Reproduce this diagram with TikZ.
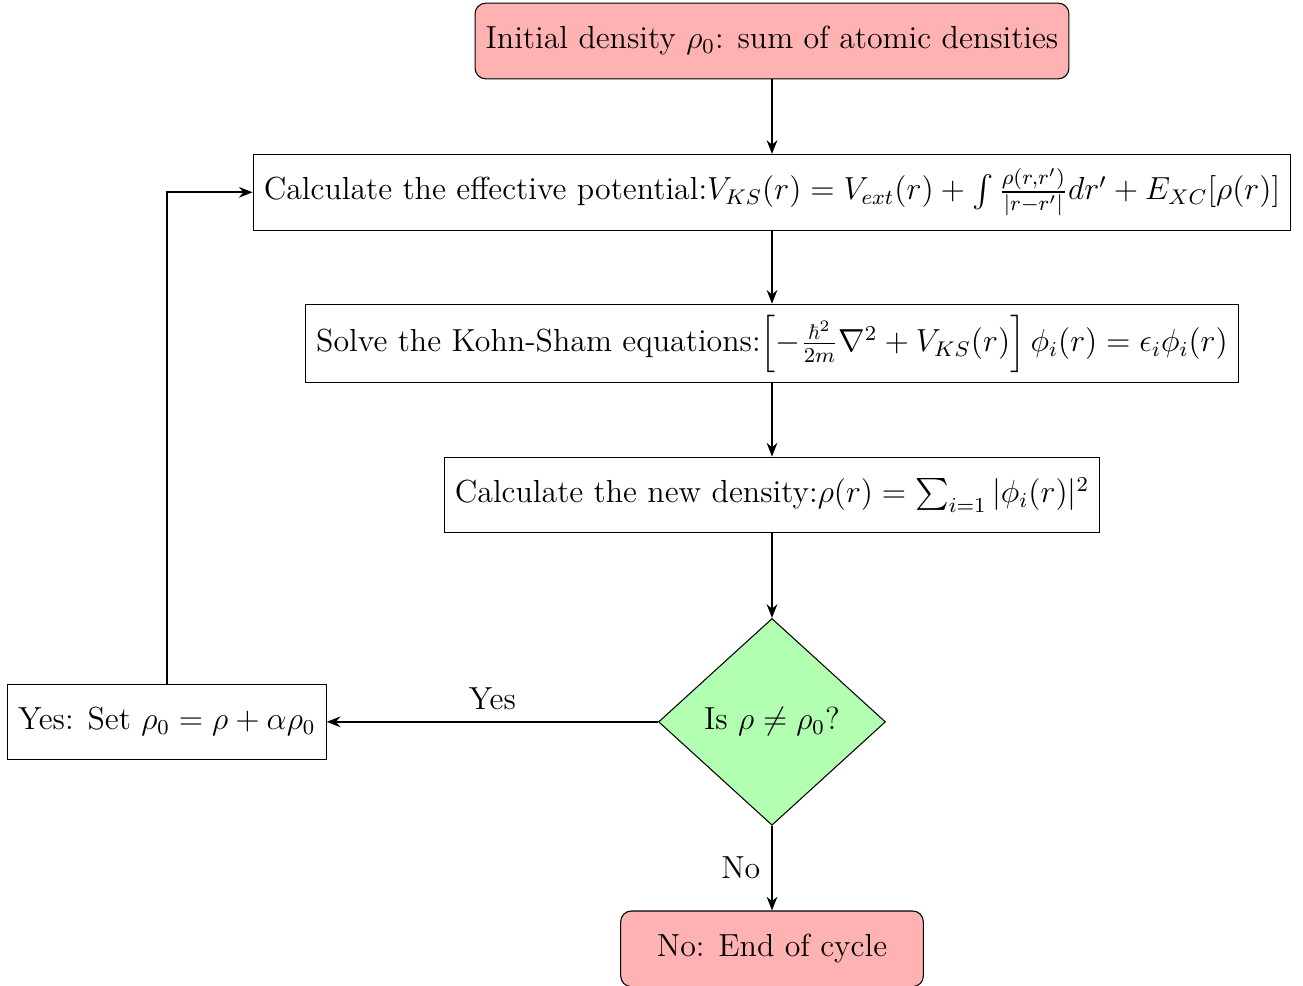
\documentclass[12pt,tikz,border=0pt]{standalone}
\usepackage{amsmath,amssymb}
\usepackage{tikz}
\usetikzlibrary{arrows.meta,shapes.geometric}

\begin{document}
\begin{tikzpicture}[
          startstop/.style={rectangle,draw,rounded corners,fill=red!30,
                            minimum width=4cm,minimum height=1cm,text centered},
          process/.style={rectangle,draw,fill=white,
                          minimum width=3cm,minimum height=1cm,text centered},
          decision/.style={diamond,draw,fill=green!30,
                           minimum width=3cm,minimum height=1cm,text centered},
          arr/.style={thick,-{Stealth[length=1.8mm,width=1.4mm]}},
      ]
        \useasboundingbox (-10.205,0.542) rectangle (7.019,-12.49);

        \node[startstop] (start) at (0,0)
          {Initial density $\rho_0$: sum of atomic densities};
        \node[process] (veff) at (0,-2)
          {Calculate the effective potential:$V_{KS}(r) = V_{ext}(r) + \int \frac{\rho(r,r')}{|r-r'|}dr' + E_{XC}[\rho(r)]$};
        \node[process] (ks) at (0,-4)
          {Solve the Kohn-Sham equations:$\left[-\frac{\hbar^2}{2m}\nabla^2 + V_{KS}(r)\right]\phi_i(r) = \epsilon_i\phi_i(r)$};
        \node[process] (dens) at (0,-6)
          {Calculate the new density:$\rho(r) = \sum_{i=1}|\phi_i(r)|^2$};
        \node[decision] (check) at (0,-9) {Is $\rho \neq \rho_0$?};
        \node[process] (mix) at (-8,-9) {Yes: Set $\rho_0 = \rho + \alpha\rho_0$};
        \node[startstop] (stop) at (0,-12) {No: End of cycle};

        \draw[arr] (start) -- (veff);
        \draw[arr] (veff) -- (ks);
        \draw[arr] (ks) -- (dens);
        \draw[arr] (dens) -- (check);
        \draw[arr] (check) -- node[above] {Yes} (mix);
        \draw[arr] (check) -- node[left] {No} (stop);
        \draw[arr] (mix) |- (veff);
      \end{tikzpicture}
\end{document}
